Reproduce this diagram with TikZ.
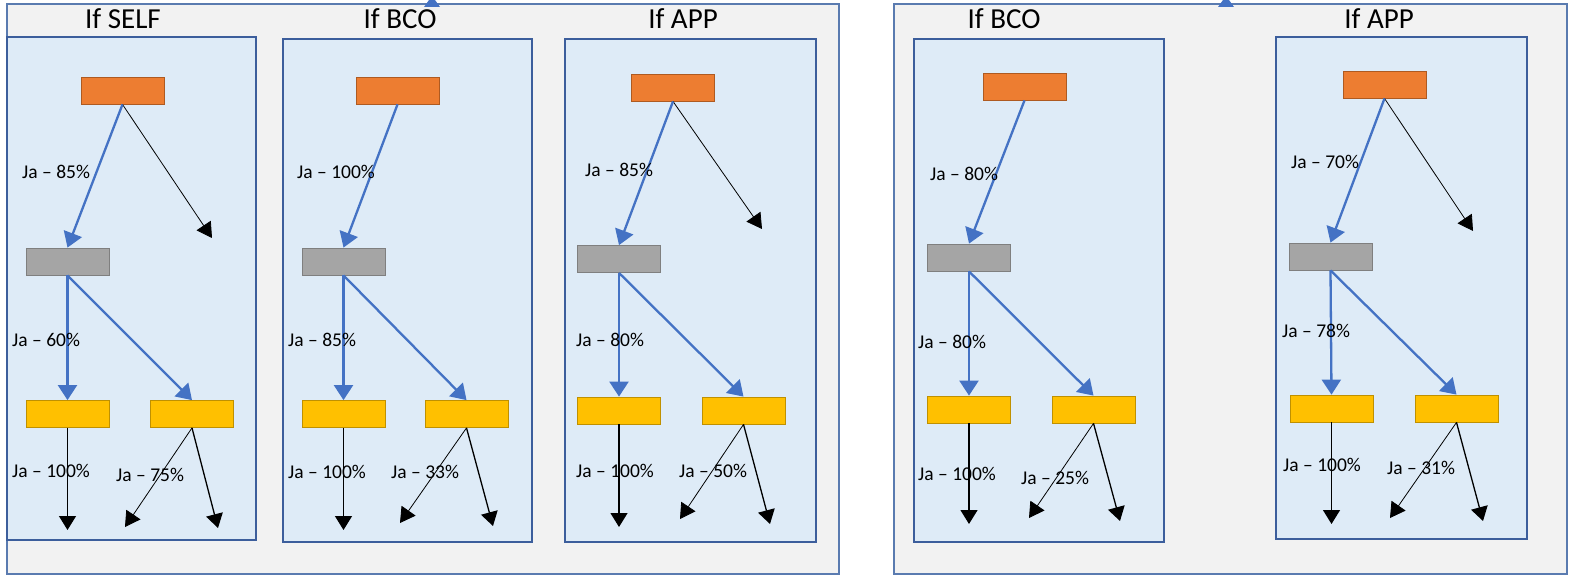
\documentclass[tikz,border=0pt]{standalone}
\usepackage{fontspec}
\setmainfont{Carlito}
\usetikzlibrary{arrows.meta}
\definecolor{outerfill}{HTML}{F2F2F2}
\definecolor{outerline}{HTML}{5A7BB0}
\definecolor{panelfill}{HTML}{DEEBF7}
\definecolor{panelline}{HTML}{3C5E9C}
\definecolor{orangef}{HTML}{ED7D31}
\definecolor{oranged}{HTML}{AE5A21}
\definecolor{grayf}{HTML}{A5A5A5}
\definecolor{grayd}{HTML}{7F7F7F}
\definecolor{yellowf}{HTML}{FFC000}
\definecolor{yellowd}{HTML}{BF9000}
\definecolor{bluearr}{HTML}{4472C4}
\tikzset{
  outerbox/.style={fill=outerfill,draw=outerline,line width=1.2pt},
  panelbox/.style={fill=panelfill,draw=panelline,line width=1.2pt},
  obox/.style={fill=orangef,draw=oranged,line width=0.8pt,minimum width=83pt,minimum height=27pt,inner sep=0pt},
  gbox/.style={fill=grayf,draw=grayd,line width=0.8pt,minimum width=83pt,minimum height=27pt,inner sep=0pt},
  ybox/.style={fill=yellowf,draw=yellowd,line width=0.8pt,minimum width=83pt,minimum height=27pt,inner sep=0pt},
  barrow/.style={draw=bluearr,line width=2.3pt,-{Triangle[length=15pt,width=19pt]}},
  karrow/.style={draw=black,line width=0.8pt,-{Triangle[length=15pt,width=17pt]}},
  kvarrow/.style={draw=black,line width=1.3pt,-{Triangle[length=14pt,width=17pt]}},
  lbl/.style={anchor=base west,inner sep=0pt,font=\fontsize{19.5pt}{22pt}\selectfont},
  ttl/.style={anchor=base,inner sep=0pt,font=\fontsize{29pt}{34pt}\selectfont},
}
\begin{document}
\begin{tikzpicture}[x=1pt,y=-1pt]
\useasboundingbox (0,0) rectangle (1570,575);
\fill[white] (0,0) rectangle (1570,575);
% outer boxes
\draw[outerbox] (7,4) rectangle (839,574);
\draw[outerbox] (894,4) rectangle (1567,574);
% top arrowheads
\fill[bluearr] (424,7) -- (440,7) -- (435,0) -- (429,0) -- cycle;
\fill[bluearr] (1218,7) -- (1234,7) -- (1229,0) -- (1223,0) -- cycle;
% titles
\node[ttl] (t1) at (123,29) {If SELF};
\node[ttl] (t2) at (400,29) {If BCO};
\node[ttl] (t3) at (683,29) {If APP};
\node[ttl] (t4) at (1004,29) {If BCO};
\node[ttl] (t5) at (1379,29) {If APP};
% panels
\draw[panelbox] (7,37) rectangle (256,540);
\draw[panelbox] (283,39) rectangle (532,542);
\draw[panelbox] (565,39) rectangle (816,542);
\draw[panelbox] (914,39) rectangle (1164,542);
\draw[panelbox] (1276,37) rectangle (1527,539);

% ---------- panel 1 ----------
\node[obox] (o1) at (122.5,90.5) {};
\node[gbox] (g1) at (67.5,261.5) {};
\node[ybox] (ya1) at (67.5,414) {};
\node[ybox] (yb1) at (192,414) {};
\coordinate (e1) at (212,238);
\coordinate (ea1) at (67.5,530);
\coordinate (eb1) at (125,527);
\coordinate (ec1) at (218,528);
\draw[karrow] (o1.south) -- (e1);
\draw[barrow] (o1.south) -- (g1.north);
\draw[barrow] (g1.south) -- (ya1.north);
\draw[barrow] (g1.south) -- (yb1.north);
\draw[kvarrow] (ya1.south) -- (ea1);
\draw[karrow] (yb1.south) -- (eb1);
\draw[kvarrow] (yb1.south) -- (ec1);
\node[lbl] (l11) at (22,178) {Ja – 85\%};
\node[lbl] (l12) at (12,346) {Ja – 60\%};
\node[lbl] (l13) at (12,477) {Ja – 100\%};
\node[lbl] (l14) at (116,481) {Ja – 75\%};

% ---------- panel 2 ----------
\node[obox] (o2) at (397.5,90.5) {};
\node[gbox] (g2) at (343.5,261.5) {};
\node[ybox] (ya2) at (343.5,414) {};
\node[ybox] (yb2) at (466.5,414) {};
\coordinate (ea2) at (343.5,530);
\coordinate (eb2) at (400,523);
\coordinate (ec2) at (493,526);
\draw[barrow] (o2.south) -- (g2.north);
\draw[barrow] (g2.south) -- (ya2.north);
\draw[barrow] (g2.south) -- (yb2.north);
\draw[kvarrow] (ya2.south) -- (ea2);
\draw[karrow] (yb2.south) -- (eb2);
\draw[kvarrow] (yb2.south) -- (ec2);
\node[lbl] (l21) at (297,178) {Ja – 100\%};
\node[lbl] (l22) at (288,346) {Ja – 85\%};
\node[lbl] (l23) at (288,478) {Ja – 100\%};
\node[lbl] (l24) at (391,478) {Ja – 33\%};

% ---------- panel 3 ----------
\node[obox] (o3) at (673,87.5) {};
\node[gbox] (g3) at (619,259) {};
\node[ybox] (ya3) at (619,410.5) {};
\node[ybox] (yb3) at (743.5,410.5) {};
\coordinate (e3) at (762,229);
\coordinate (ea3) at (619,527);
\coordinate (eb3) at (680,519);
\coordinate (ec3) at (770,524);
\draw[karrow] (o3.south) -- (e3);
\draw[barrow] (o3.south) -- (g3.north);
\draw[barrow] (g3.south) -- (ya3.north);
\draw[barrow] (g3.south) -- (yb3.north);
\draw[kvarrow] (ya3.south) -- (ea3);
\draw[karrow] (yb3.south) -- (eb3);
\draw[kvarrow] (yb3.south) -- (ec3);
\node[lbl] (l31) at (585,176) {Ja – 85\%};
\node[lbl] (l32) at (576,346) {Ja – 80\%};
\node[lbl] (l33) at (576,477) {Ja – 100\%};
\node[lbl] (l34) at (679,477) {Ja – 50\%};

% ---------- panel 4 ----------
\node[obox] (o4) at (1024.5,86.5) {};
\node[gbox] (g4) at (969,257.5) {};
\node[ybox] (ya4) at (969,409.5) {};
\node[ybox] (yb4) at (1093.5,409.5) {};
\coordinate (ea4) at (969,524);
\coordinate (eb4) at (1029,518);
\coordinate (ec4) at (1120,521);
\draw[barrow] (o4.south) -- (g4.north);
\draw[barrow] (g4.south) -- (ya4.north);
\draw[barrow] (g4.south) -- (yb4.north);
\draw[kvarrow] (ya4.south) -- (ea4);
\draw[karrow] (yb4.south) -- (eb4);
\draw[kvarrow] (yb4.south) -- (ec4);
\node[lbl] (l41) at (930,180) {Ja – 80\%};
\node[lbl] (l42) at (918,348) {Ja – 80\%};
\node[lbl] (l43) at (918,480) {Ja – 100\%};
\node[lbl] (l44) at (1021,484) {Ja – 25\%};

% ---------- panel 5 ----------
\node[obox] (o5) at (1384.5,84.5) {};
\node[gbox] (g5) at (1330.5,256.5) {};
\node[ybox] (ya5) at (1331.5,408.5) {};
\node[ybox] (yb5) at (1456.5,408.5) {};
\coordinate (e5) at (1473,231);
\coordinate (ea5) at (1331.5,524);
\coordinate (eb5) at (1390,518);
\coordinate (ec5) at (1483,521);
\draw[karrow] (o5.south) -- (e5);
\draw[barrow] (o5.south) -- (g5.north);
\draw[barrow] (g5.south) -- (ya5.north);
\draw[barrow] (g5.south) -- (yb5.north);
\draw[kvarrow] (ya5.south) -- (ea5);
\draw[karrow] (yb5.south) -- (eb5);
\draw[kvarrow] (yb5.south) -- (ec5);
\node[lbl] (l51) at (1291,168) {Ja – 70\%};
\node[lbl] (l52) at (1282,337) {Ja – 78\%};
\node[lbl] (l53) at (1283,471) {Ja – 100\%};
\node[lbl] (l54) at (1387,474) {Ja – 31\%};
\end{tikzpicture}
\end{document}
